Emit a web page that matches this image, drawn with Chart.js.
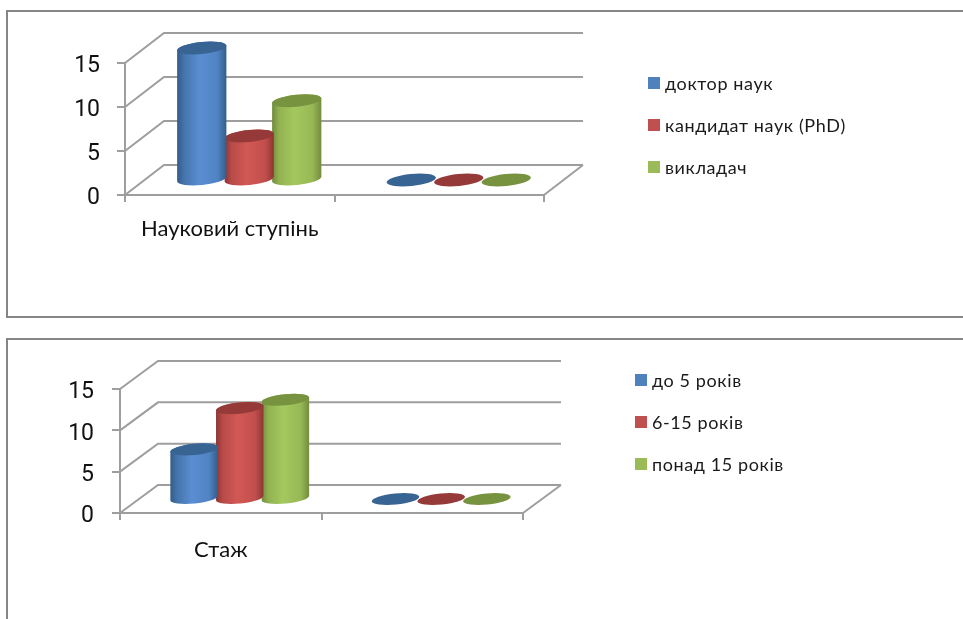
<!DOCTYPE html>
<html>
<head>
<meta charset="utf-8">
<script src="https://cdn.jsdelivr.net/npm/chart.js@4/dist/chart.umd.min.js"></script>
<style>
    html, body { margin: 0; padding: 0; background: #fff; }
    body { position: relative; width: 963px; height: 619px; overflow: hidden; font-family: Lato, 'Open Sans', sans-serif; }
    canvas { position: absolute; left: 0; }
    .frame { position: absolute; box-sizing: border-box; border: 2px solid #868686; border-right: none; }
    .legend-item { position: absolute; height: 20px; line-height: 20px; font-size: 18px; letter-spacing: 0.6px; color: #1a1a1a; white-space: nowrap; }
    .legend-item i { position: absolute; left: 0; top: 4px; width: 12px; height: 12px; }
    .legend-item span { position: absolute; left: 17px; top: 0; }
</style>
</head>
<body>
<div class="frame" style="left:6px; top:10px; width:960px; height:308px"></div>
<div class="frame" style="left:6px; top:338px; width:960px; height:290px; border-bottom:none"></div>
<canvas id="degreeChart" width="963" height="325" style="top:0"></canvas>
<canvas id="tenureChart" width="963" height="294" style="top:325px"></canvas>
<script>
// ===== DATA =====
const degreeCategories = ['Науковий ступінь', ''];
const doctorValues = [15, 0];
const candidateValues = [5, 0];
const teacherValues = [9, 0];

const tenureCategories = ['Стаж', ''];
const upTo5Values = [6, 0];
const from6To15Values = [11, 0];
const over15Values = [12, 0];

const degreeSeriesNames = ['доктор наук', 'кандидат наук (PhD)', 'викладач'];
const tenureSeriesNames = ['до 5 років', '6-15 років', 'понад 15 років'];
const valueTicks = [0, 5, 10, 15];

// flat colour, top cap, then the shades across the cylinder
const PALETTE = [
    { flat: '#4f81bd', cap: '#386493', shades: ['#325b88', '#4474ab', '#5a8ed2', '#4f83c2', '#335d8b'] },
    { flat: '#c0504d', cap: '#953a39', shades: ['#8b3534', '#b84a48', '#d25855', '#c24f4c', '#8e3635'] },
    { flat: '#9bbb59', cap: '#789340', shades: ['#6f893c', '#92b250', '#a4c85e', '#97b855', '#728c3d'] }
];
const GRID = '#9e9e9e';
const FONT = "Lato, 'Open Sans', sans-serif";

// ===== 3D LOOK =====
// Walls and cylinders are drawn from the scales and bar elements Chart.js has laid out
const cylinderPlugin = {
    id: 'cylinders',
    beforeDatasetsDraw(chart, args, opts) {
        const { ctx, chartArea, scales } = chart;
        const { x: dx, y: dy } = opts.depth;
        ctx.save();
        ctx.strokeStyle = GRID;
        ctx.lineWidth = 2;
        ctx.beginPath();
        valueTicks.forEach(v => {
            const y = scales.y.getPixelForValue(v);
            ctx.moveTo(chartArea.left, y);
            ctx.lineTo(chartArea.left + dx, y - dy);
            ctx.lineTo(chartArea.right + dx, y - dy);
        });
        const floor = scales.y.getPixelForValue(0);
        ctx.moveTo(chartArea.right + dx, floor - dy);
        ctx.lineTo(chartArea.right, floor);
        ctx.stroke();
        ctx.restore();
    },
    beforeDatasetDraw(chart, args, opts) {
        const { ctx } = chart;
        const colors = PALETTE[args.index];
        const dx = opts.depth.x / 2;
        const dy = opts.depth.y / 2;
        args.meta.data.forEach(bar => {
            const rx = bar.width / 2 + 1;
            const ry = opts.capHeight;
            const cx = bar.x + dx;
            const top = bar.y - dy;
            const base = bar.base - dy;
            ctx.save();
            if (base - top > 0.5) {
                const fill = ctx.createLinearGradient(cx - rx, 0, cx + rx, 0);
                [0, 0.14, 0.45, 0.82, 1].forEach((stop, i) => fill.addColorStop(stop, colors.shades[i]));
                ctx.fillStyle = fill;
                ctx.beginPath();
                ctx.ellipse(cx, top, rx, ry, opts.tilt, Math.PI, 0);
                ctx.ellipse(cx, base, rx, ry, opts.tilt, 0, Math.PI);
                ctx.closePath();
                ctx.fill();
            }
            ctx.fillStyle = colors.cap;
            ctx.beginPath();
            ctx.ellipse(cx, top, rx, ry, opts.tilt, 0, Math.PI * 2);
            ctx.fill();
            ctx.restore();
        });
        return false;
    }
};

function makeChart(canvasId, categories, names, series, box) {
    const height = document.getElementById(canvasId).height;
    return new Chart(document.getElementById(canvasId), {
        type: 'bar',
        data: {
            labels: categories,
            datasets: series.map((values, i) => ({
                label: names[i],
                data: values,
                backgroundColor: PALETTE[i].flat,
                categoryPercentage: box.groupShare,
                barPercentage: 1
            }))
        },
        options: {
            responsive: false,
            animation: false,
            layout: { padding: { top: box.top, right: 963 - box.right } },
            plugins: {
                legend: { display: false },
                tooltip: { enabled: false },
                cylinders: { depth: box.depth, capHeight: box.capHeight, tilt: -0.1 }
            },
            scales: {
                x: {
                    afterFit: s => { s.height = height - box.bottom; },
                    grid: { drawOnChartArea: false, color: GRID, lineWidth: 2, tickLength: 7 },
                    border: { color: GRID, width: 2 },
                    ticks: { color: '#111', font: { family: FONT, size: 22 }, padding: box.labelGap, maxRotation: 0 }
                },
                y: {
                    min: 0,
                    max: 15,
                    afterFit: s => { s.width = box.left; },
                    afterBuildTicks: s => { s.ticks = valueTicks.map(value => ({ value })); },
                    grid: { drawOnChartArea: false, color: GRID, lineWidth: 2, tickLength: 8 },
                    border: { color: GRID, width: 2 },
                    ticks: {
                        color: '#111',
                        // empty first line nudges the number down to where the original has it
                        callback: value => ['', String(value)],
                        font: { family: 'Roboto', size: 23, lineHeight: '7px' },
                        padding: box.tickGap
                    }
                }
            }
        },
        plugins: [cylinderPlugin]
    });
}

// legend is plain html so it can sit free of the plot, like the original
function addLegend(chart, x, y, step) {
    chart.data.datasets.forEach((ds, i) => {
        const item = document.createElement('div');
        item.className = 'legend-item';
        item.style.left = x + 'px';
        item.style.top = (y + i * step) + 'px';
        const box = document.createElement('i');
        box.style.background = ds.backgroundColor;
        const text = document.createElement('span');
        text.textContent = ds.label;
        item.append(box, text);
        document.body.appendChild(item);
    });
}

const degreeChart = makeChart('degreeChart', degreeCategories, degreeSeriesNames,
    [doctorValues, candidateValues, teacherValues],
    { left: 125, right: 544, top: 63, bottom: 195, depth: { x: 39, y: 30 }, capHeight: 6, groupShare: 0.68, labelGap: 14, tickGap: 17 });
const tenureChart = makeChart('tenureChart', tenureCategories, tenureSeriesNames,
    [upTo5Values, from6To15Values, over15Values],
    { left: 120, right: 523, top: 64, bottom: 188, depth: { x: 38, y: 28 }, capHeight: 5.6, groupShare: 0.68, labelGap: 17, tickGap: 18 });

addLegend(degreeChart, 648, 73, 42);
addLegend(tenureChart, 635, 370, 42);
</script>
</body>
</html>
